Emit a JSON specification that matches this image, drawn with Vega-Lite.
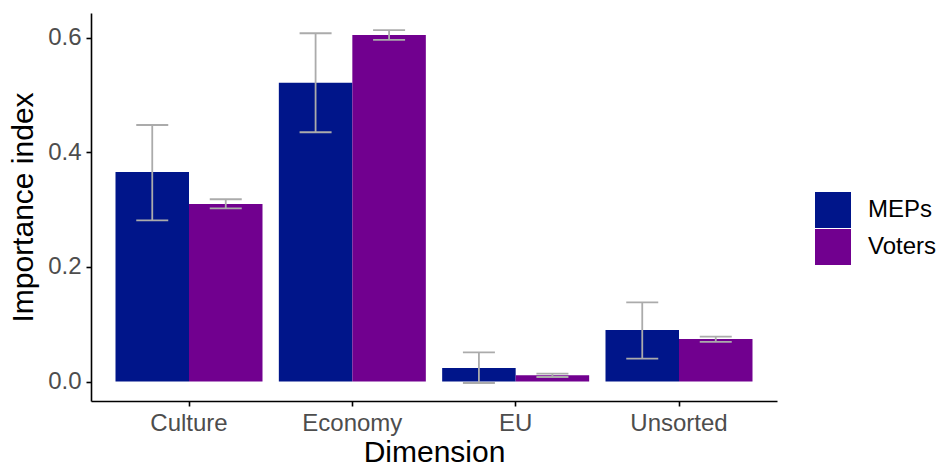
{
  "$schema": "https://vega.github.io/schema/vega-lite/v6.json",
  "width": 686,
  "height": 388,
  "autosize": "none",
  "padding": {"left": 91, "top": 13, "right": 162, "bottom": 66},
  "config": {"view": {"stroke": null}, "font": "Liberation Sans"},
  "data": {
    "values": [
      {"Dimension": "Culture", "Group": "MEPs", "value": 0.3656, "lo": 0.2813, "hi": 0.4476},
      {"Dimension": "Culture", "Group": "Voters", "value": 0.3098, "lo": 0.3022, "hi": 0.318},
      {"Dimension": "Economy", "Group": "MEPs", "value": 0.5215, "lo": 0.4349, "hi": 0.6077},
      {"Dimension": "Economy", "Group": "Voters", "value": 0.6047, "lo": 0.596, "hi": 0.613},
      {"Dimension": "EU", "Group": "MEPs", "value": 0.0236, "lo": -0.0026, "hi": 0.051},
      {"Dimension": "EU", "Group": "Voters", "value": 0.0108, "lo": 0.0079, "hi": 0.0136},
      {"Dimension": "Unsorted", "Group": "MEPs", "value": 0.0899, "lo": 0.0398, "hi": 0.1382},
      {"Dimension": "Unsorted", "Group": "Voters", "value": 0.0742, "lo": 0.069, "hi": 0.0782}
    ]
  },
  "encoding": {
    "x": {
      "field": "Dimension",
      "type": "nominal",
      "sort": ["Culture", "Economy", "EU", "Unsorted"],
      "scale": {"paddingInner": 0.1, "paddingOuter": 0.15},
      "axis": {
        "labelAngle": 0,
        "labelFontSize": 24,
        "labelColor": "#4D4D4D",
        "tickSize": 5,
        "tickColor": "#000000",
        "tickWidth": 1.6,
        "domainColor": "#000000",
        "domainWidth": 1.6,
        "labelPadding": 5,
        "title": "Dimension",
        "titleFontSize": 30,
        "titleFontWeight": "normal",
        "titleColor": "#000000",
        "titlePadding": 2
      }
    },
    "xOffset": {"field": "Group", "type": "nominal", "sort": ["MEPs", "Voters"]}
  },
  "layer": [
    {
      "mark": {"type": "bar"},
      "encoding": {
        "y": {
          "field": "value",
          "type": "quantitative",
          "scale": {"domain": [-0.034, 0.643], "nice": false, "zero": false},
          "axis": {
            "values": [0, 0.2, 0.4, 0.6],
            "format": ".1f",
            "grid": false,
            "labelFontSize": 24,
            "labelColor": "#4D4D4D",
            "tickSize": 5,
            "tickColor": "#000000",
            "tickWidth": 1.6,
            "domainColor": "#000000",
            "domainWidth": 1.6,
            "labelPadding": 5,
            "title": "Importance index",
            "titleFontSize": 30,
            "titleFontWeight": "normal",
            "titleColor": "#000000",
            "titlePadding": 9
          }
        },
        "y2": {"datum": 0},
        "color": {
          "field": "Group",
          "type": "nominal",
          "scale": {"domain": ["MEPs", "Voters"], "range": ["#00158A", "#71008F"]},
          "legend": {
            "title": null,
            "orient": "none",
            "legendX": 724,
            "legendY": 179,
            "padding": 0,
            "symbolType": "square",
            "symbolSize": 1296,
            "symbolStrokeWidth": 0,
            "symbolOpacity": 1,
            "labelFontSize": 24,
            "labelColor": "#000000",
            "labelOffset": 17,
            "rowPadding": 1
          }
        }
      }
    },
    {
      "mark": {"type": "rule", "color": "#ABABAB", "strokeWidth": 1.8},
      "encoding": {
        "y": {"field": "lo", "type": "quantitative"},
        "y2": {"field": "hi"}
      }
    },
    {
      "mark": {"type": "tick", "color": "#ABABAB", "thickness": 1.8, "size": 32, "opacity": 1},
      "encoding": {"y": {"field": "lo", "type": "quantitative"}}
    },
    {
      "mark": {"type": "tick", "color": "#ABABAB", "thickness": 1.8, "size": 32, "opacity": 1},
      "encoding": {"y": {"field": "hi", "type": "quantitative"}}
    }
  ]
}
